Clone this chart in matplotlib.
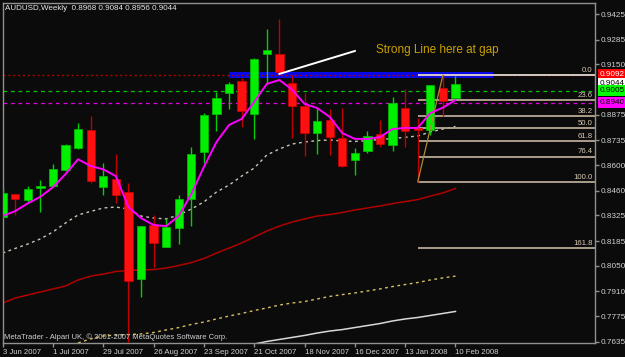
import matplotlib
matplotlib.use('Agg')
import matplotlib.pyplot as plt
import numpy as np
from matplotlib.patches import Rectangle

# ---------------- data ----------------
opens  = [0.8317, 0.8442, 0.8409, 0.8477, 0.8486, 0.8573, 0.8692, 0.8792, 0.8482, 0.8526,
          0.8451, 0.7978, 0.8273, 0.8154, 0.8258, 0.8413, 0.8670, 0.8877, 0.8992, 0.9059,
          0.8879, 0.9205, 0.9205, 0.9047, 0.8924, 0.8777, 0.8846, 0.8750, 0.8628, 0.8677,
          0.8768, 0.8710, 0.8913, 0.8804, 0.8792, 0.9019, 0.8968]
highs  = [0.8470, 0.8443, 0.8488, 0.8519, 0.8604, 0.8714, 0.8832, 0.8870, 0.8613, 0.8661,
          0.8501, 0.8270, 0.8328, 0.8306, 0.8437, 0.8700, 0.8883, 0.9001, 0.9055, 0.9074,
          0.9186, 0.9343, 0.9398, 0.9092, 0.8992, 0.8914, 0.8905, 0.8912, 0.8695, 0.8788,
          0.8846, 0.8973, 0.9014, 0.8857, 0.9038, 0.9092, 0.9084]
lows   = [0.8311, 0.8328, 0.8400, 0.8346, 0.8480, 0.8569, 0.8686, 0.8504, 0.8437, 0.8395,
          0.7630, 0.7881, 0.8045, 0.8153, 0.8168, 0.8269, 0.8610, 0.8788, 0.8906, 0.8810,
          0.8742, 0.9047, 0.9092, 0.8750, 0.8650, 0.8661, 0.8655, 0.8592, 0.8546, 0.8668,
          0.8697, 0.8679, 0.8697, 0.8509, 0.8764, 0.8868, 0.8956]
closes = [0.8448, 0.8415, 0.8468, 0.8488, 0.8579, 0.8710, 0.8797, 0.8513, 0.8542, 0.8438,
          0.7969, 0.8269, 0.8176, 0.8260, 0.8415, 0.8661, 0.8874, 0.8968, 0.9043, 0.8897,
          0.9178, 0.9227, 0.9108, 0.8924, 0.8774, 0.8841, 0.8755, 0.8597, 0.8668, 0.8759,
          0.8715, 0.8941, 0.8788, 0.8792, 0.9037, 0.8950, 0.9044]

ma_magenta = [0.8322, 0.8349, 0.8391, 0.8427, 0.8479, 0.8551, 0.8632, 0.8595, 0.8577, 0.8540,
              0.8371, 0.8311, 0.8273, 0.8267, 0.8322, 0.8442, 0.8590, 0.8726, 0.8819, 0.8852,
              0.8945, 0.9043, 0.9065, 0.9013, 0.8934, 0.8912, 0.8863, 0.8775, 0.8743, 0.8743,
              0.8753, 0.8797, 0.8803, 0.8803, 0.8884, 0.8914, 0.8955]
ma_grey = [0.8120, 0.8145, 0.8169, 0.8197, 0.8235, 0.8284, 0.8328, 0.8347, 0.8366, 0.8371,
           0.8360, 0.8322, 0.8311, 0.8306, 0.8328, 0.8360, 0.8399, 0.8453, 0.8491, 0.8540,
           0.8584, 0.8655, 0.8688, 0.8715, 0.8726, 0.8734, 0.8737, 0.8732, 0.8729, 0.8734,
           0.8740, 0.8745, 0.8752, 0.8759, 0.8781, 0.8797, 0.8811]
ma_darkred = [0.7847, 0.7874, 0.7891, 0.7907, 0.7924, 0.7940, 0.7973, 0.7994, 0.8005, 0.8019,
              0.8025, 0.8027, 0.8030, 0.8038, 0.8052, 0.8068, 0.8090, 0.8120, 0.8147, 0.8175,
              0.8207, 0.8240, 0.8267, 0.8289, 0.8306, 0.8322, 0.8330, 0.8341, 0.8355, 0.8366,
              0.8377, 0.8390, 0.8401, 0.8412, 0.8431, 0.8448, 0.8472]
ma_yellow_start = 6
ma_yellow = [0.7629, 0.7651, 0.7667, 0.7672, 0.7675, 0.7678, 0.7686, 0.7700, 0.7713, 0.7730,
             0.7743, 0.7760, 0.7776, 0.7790, 0.7806, 0.7820, 0.7836, 0.7847, 0.7855, 0.7869,
             0.7883, 0.7893, 0.7902, 0.7913, 0.7924, 0.7937, 0.7948, 0.7959, 0.7973, 0.7984,
             0.7994]
ma_white_start = 20
ma_white = [0.7623, 0.7637, 0.7648, 0.7659, 0.7670, 0.7683, 0.7694, 0.7702, 0.7713, 0.7724,
            0.7735, 0.7749, 0.7760, 0.7768, 0.7779, 0.7790, 0.7801]

date_ticks = [0, 4, 8, 12, 16, 20, 24, 28, 32, 36]
date_labels = ["3 Jun 2007", "1 Jul 2007", "29 Jul 2007", "26 Aug 2007", "23 Sep 2007",
               "21 Oct 2007", "18 Nov 2007", "16 Dec 2007", "13 Jan 2008", "10 Feb 2008"]
price_ticks = [0.9425, 0.9285, 0.9150, 0.8875, 0.8735, 0.8600, 0.8460, 0.8325,
               0.8185, 0.8050, 0.7910, 0.7775, 0.7635]

fib_high = 0.9092
fib_low = 0.8509
fib_start = 33
fib_peak = 35
fib_levels = [0.0, 23.6, 38.2, 50.0, 61.8, 76.4, 100.0, 161.8]

gap_zone = (18, 39, 0.9077, 0.9107)          # x0, x1, y0, y1 of the blue box
trend_line = ([22, 28], [0.9098, 0.9223])
hlines = {"red": 0.9092, "green": 0.9005, "magenta": 0.8940}
bid = 0.9044

# ---------------- figure ----------------
BG = '#0b0b0b'
fig = plt.figure(figsize=(6.25, 3.57), dpi=100, facecolor=BG)
W, H = 625, 357
ax = fig.add_axes([2.5 / W, 1 - 343 / H, (595 - 2.5) / W, (343 - 3) / H], facecolor=BG)
ax.set_xlim(-0.01, 47.09)
ax.set_ylim(0.76287, 0.94851)

x = np.arange(len(opens))
o = np.array(opens); c = np.array(closes); h = np.array(highs); l = np.array(lows)
up = c >= o

# gap zone
ax.add_patch(Rectangle((gap_zone[0], gap_zone[2]), gap_zone[1] - gap_zone[0],
                       gap_zone[3] - gap_zone[2], facecolor='#0808e8', edgecolor='none', zorder=1))

# horizontal lines
ax.axhline(hlines["red"], color='#b00000', lw=1, ls=(0, (1.5, 2)), zorder=2)
ax.axhline(hlines["green"], color='#00c800', lw=0.9, ls=(0, (3, 3)), zorder=2)
ax.axhline(hlines["magenta"], color='#e000e0', lw=0.9, ls=(0, (3, 3)), zorder=2)

# moving averages
ax.plot(x, ma_darkred, color='#b00000', lw=1.1, zorder=2)
ax.plot(np.arange(ma_yellow_start, ma_yellow_start + len(ma_yellow)), ma_yellow,
        color='#d8c060', lw=1, ls=(0, (2, 2.5)), zorder=2)
ax.plot(np.arange(ma_white_start, ma_white_start + len(ma_white)), ma_white,
        color='#d8d8d8', lw=1.1, zorder=2)
ax.plot(x, ma_grey, color='#c8c8b8', lw=1, ls=(0, (2, 2.5)), zorder=2)

# fibonacci
xmax = 47.09
for lev in fib_levels:
    p = fib_high - (fib_high - fib_low) * lev / 100.0
    col = '#e0d8d0' if lev == 0 else '#b8a896'
    ax.plot([fib_start, xmax], [p, p], color=col, lw=1.3, zorder=2, solid_capstyle='butt')
    ax.text(46.9, p + 0.0006, f"{lev:.1f}", color='#d8c8b4', fontsize=5.6,
            family='Liberation Sans', ha='right', va='bottom', zorder=5)
ax.plot([fib_start, fib_peak], [fib_low, fib_high], color='#b08838', lw=0.9, zorder=4)

# candles
body_w = 0.66
ax.vlines(x[up], l[up], h[up], color='#00d000', lw=1, zorder=3)
ax.vlines(x[~up], l[~up], h[~up], color='#c00000', lw=1, zorder=3)
bh = np.maximum(np.abs(c - o), 0.0004)
bb = np.minimum(o, c)
ax.bar(x[up], bh[up], bottom=bb[up], width=body_w, color='#00f000', edgecolor='#00c000',
       linewidth=0.5, zorder=3.5)
ax.bar(x[~up], bh[~up], bottom=bb[~up], width=body_w, color='#ff1010', edgecolor='#d00000',
       linewidth=0.5, zorder=3.5)

# short MA on top of candles
ax.plot(x, ma_magenta, color='#ff00ff', lw=1.4, zorder=4)

# trend line and comment
ax.plot(trend_line[0], trend_line[1], color='white', lw=1.4, zorder=5)
ax.text(29.7, 0.9228, "Strong Line here at gap", color='#c8a000', fontsize=8.5,
        family='Liberation Sans', ha='left', va='center', zorder=5)

# axes styling
for s in ax.spines.values():
    s.set_color('#909090')
    s.set_linewidth(1)
ax.yaxis.tick_right()
ax.set_yticks(price_ticks)
ax.set_yticklabels([f"{v:.4f}" for v in price_ticks])
ax.set_xticks(date_ticks)
ax.set_xticklabels(date_labels, ha='left')
ax.tick_params(axis='y', colors='#909090', length=3, width=1, pad=1, labelsize=5.9,
               labelcolor='#d0d0d0')
ax.tick_params(axis='x', colors='#909090', length=3, width=1, pad=1.5, labelsize=5.6,
               labelcolor='#d0d0d0')
for t in ax.get_xticklabels() + ax.get_yticklabels():
    t.set_family('Liberation Sans')
for t in ax.get_xticklabels():
    t.set_x(t.get_position()[0])

# right-hand price boxes
tr = ax.get_yaxis_transform()
boxes = [(hlines["red"], '#ff0000', 'white'), (bid, 'white', 'black'),
         (hlines["green"], '#00ff00', 'black'), (hlines["magenta"], '#ff00ff', 'black')]
for val, fc, tc in boxes:
    ax.text(1.008, val, f"{val:.4f}", transform=tr, color=tc, fontsize=5.9,
            family='Liberation Sans', ha='left', va='center', clip_on=False, zorder=6,
            bbox=dict(boxstyle='square,pad=0.25', facecolor=fc, edgecolor='none'))

# header and watermark
fig.text(5 / W, 1 - 8 / H, "AUDUSD,Weekly  0.8968 0.9084 0.8956 0.9044", color='#e8e8e8',
         fontsize=5.8, family='Liberation Sans', ha='left', va='center')
fig.text(4 / W, 1 - 337 / H, "MetaTrader - Alpari UK, \u00a9 2001-2007 MetaQuotes Software Corp.",
         color='#d0d0d0', fontsize=5.5, family='Liberation Sans', ha='left', va='center', zorder=6)

fig.savefig('out.png', dpi=100, facecolor=BG)
